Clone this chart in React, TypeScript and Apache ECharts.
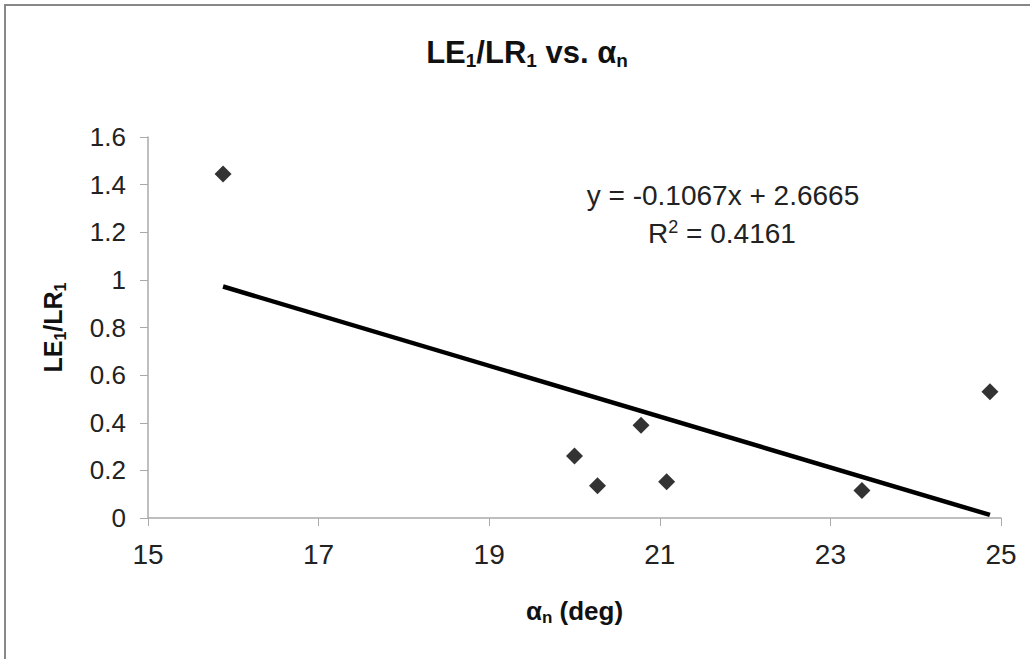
import React, { useEffect, useRef } from "react";
import * as echarts from "echarts";

const alphaN = [15.88, 20.0, 20.27, 20.78, 21.08, 23.37, 24.87];
const ratio = [1.445, 0.26, 0.135, 0.39, 0.152, 0.115, 0.53];
const slope = -0.1067;
const intercept = 2.6665;
const rSquared = "0.4161";

const FONT = "Liberation Sans, Arial, sans-serif";

export default function App() {
  const ref = useRef<HTMLDivElement>(null);
  useEffect(() => {
    document.body.style.margin = "0";
    const chart = echarts.init(ref.current!, null, { renderer: "svg" });
    const xMin = Math.min(...alphaN);
    const xMax = Math.max(...alphaN);
    const trend = [
      [xMin, slope * xMin + intercept],
      [xMax, slope * xMax + intercept],
    ];
    chart.setOption({
      animation: false,
      backgroundColor: "#fff",
      textStyle: { fontFamily: FONT },
      title: {
        text: "{b|LE}{s|1}{b|/LR}{s|1}{b| vs. α}{s|n}",
        left: 522,
        top: 29,
        textAlign: "center",
        textStyle: {
          rich: {
            b: { fontSize: 31, fontWeight: "bold", color: "#111", fontFamily: FONT },
            s: { fontSize: 19, fontWeight: "bold", color: "#111", fontFamily: FONT, padding: [17, 0, 0, 0] },
          },
        },
      },
      grid: { left: 148, right: 29, top: 137, bottom: 141 },
      xAxis: {
        type: "value",
        min: 15,
        max: 25,
        interval: 2,
        splitLine: { show: false },
        axisLine: { onZero: false, lineStyle: { color: "#aaa", width: 1.5 } },
        axisTick: { show: true, length: 8, lineStyle: { color: "#aaa" } },
        axisLabel: { fontSize: 28, color: "#222", margin: 22, fontFamily: FONT },
        name: "{b|α}{s|n}{b| (deg)}",
        nameLocation: "middle",
        nameGap: 77,
        nameTextStyle: {
          rich: {
            b: { fontSize: 26, fontWeight: "bold", color: "#111", fontFamily: FONT },
            s: { fontSize: 17, fontWeight: "bold", color: "#111", fontFamily: FONT, padding: [14, 0, 0, 0] },
          },
        },
      },
      yAxis: {
        type: "value",
        min: 0,
        max: 1.6,
        interval: 0.2,
        splitLine: { show: false },
        axisLine: { show: true, lineStyle: { color: "#aaa", width: 1.5 } },
        axisTick: { show: true, length: 8, lineStyle: { color: "#aaa" } },
        axisLabel: {
          fontSize: 26,
          color: "#222",
          margin: 22,
          fontFamily: FONT,
          formatter: (v: number) => String(Math.round(v * 10) / 10),
        },
        name: "{b|LE}{s|1}{b|/LR}{s|1}",
        nameLocation: "middle",
        nameGap: 80,
        nameRotate: 90,
        nameTextStyle: {
          rich: {
            b: { fontSize: 25, fontWeight: "bold", color: "#111", fontFamily: FONT },
            s: { fontSize: 16, fontWeight: "bold", color: "#111", fontFamily: FONT, padding: [14, 0, 0, 0] },
          },
        },
      },
      series: [
        {
          type: "line",
          data: trend,
          symbol: "none",
          lineStyle: { color: "#000", width: 4.5 },
          z: 2,
        },
        {
          type: "scatter",
          data: alphaN.map((x, i) => [x, ratio[i]]),
          symbol: "diamond",
          symbolSize: 17,
          itemStyle: { color: "#000" },
          z: 3,
        },
      ],
      graphic: [
        {
          type: "rect",
          shape: { x: 5, y: 5, width: 1100, height: 700 },
          style: { fill: "none", stroke: "#888", lineWidth: 2 },
          silent: true,
        },
        {
          type: "text",
          x: 723,
          y: 195,
          style: {
            text: "y = -0.1067x + 2.6665",
            fontSize: 28,
            fill: "#222",
            fontFamily: FONT,
            align: "center",
            verticalAlign: "middle",
          },
        },
        {
          type: "text",
          x: 722,
          y: 233,
          style: {
            rich: {
              n: { fontSize: 28, fill: "#222", fontFamily: FONT },
              p: { fontSize: 18, fill: "#222", fontFamily: FONT, padding: [0, 0, 13, 0] },
            },
            text: "{n|R}{p|2}{n| = " + rSquared + "}",
            align: "center",
            verticalAlign: "middle",
          },
        },
      ],
    });
    return () => chart.dispose();
  }, []);
  return <div ref={ref} style={{ width: 1030, height: 659 }} />;
}
